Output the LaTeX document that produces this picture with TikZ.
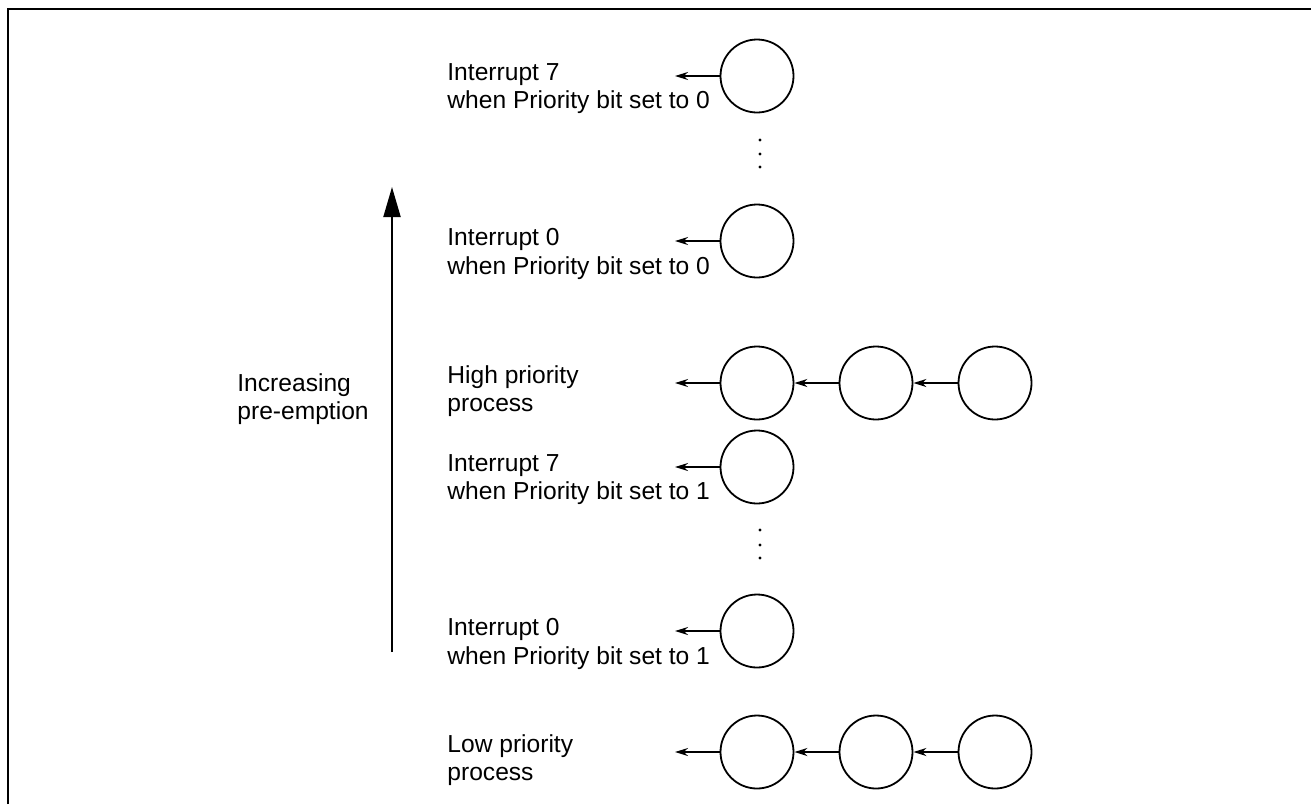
\documentclass[tikz,border=0pt]{standalone}
\usepackage{fontspec}
\setmainfont{Liberation Sans}
\usetikzlibrary{arrows.meta}
\tikzset{
  proc/.style={draw, circle, line width=0.9pt, minimum size=36.5pt, inner sep=0pt},
  lbl/.style={anchor=north west, inner sep=0pt, align=left, font=\fontsize{12.3}{14.3}\selectfont},
  link/.style={line width=0.9pt, -{Stealth[length=6.5pt,width=4pt]}},
}
\begin{document}
\begin{tikzpicture}[x=0.5pt, y=-0.5pt]
	\useasboundingbox (0,0) rectangle (1311,804);
	\draw[line width=1pt] (8,804)--(8,9)--(1311,9);
	% single interrupts
	\foreach \n/\y/\t in {i7a/76/{Interrupt 7\\when Priority bit set to 0},
		i0a/241/{Interrupt 0\\when Priority bit set to 0},
		i7b/467/{Interrupt 7\\when Priority bit set to 1},
		i0b/631/{Interrupt 0\\when Priority bit set to 1}}{
		\node[proc] (\n) at (757,\y) {};
		\coordinate (\n-out) at (675,\y);
		\draw[link] (\n)--(\n-out);
		\node[lbl] (\n-txt) at (447,\y-13) {\t};
	}
	% process queues
	\foreach \r/\y/\t in {hp/383/{High priority\\process}, lp/752/{Low priority\\process}}{
		\foreach \k/\x in {1/757, 2/876, 3/995}
			\node[proc] (\r\k) at (\x,\y) {};
		\coordinate (\r-out) at (675,\y);
		\draw[link] (\r3)--(\r2);
		\draw[link] (\r2)--(\r1);
		\draw[link] (\r1)--(\r-out);
		\node[lbl] (\r-txt) at (447,\y-18) {\t};
	}
	\foreach \y in {140,154,167,530,545,558}
		\fill (760,\y) circle (1.6);
	% pre-emption arrow
	\coordinate (pe-bot) at (392,652);
	\coordinate (pe-top) at (392,187);
	\draw[line width=1pt, -{Triangle[length=15pt,width=8.5pt]}] (pe-bot)--(pe-top);
	\node[lbl] (pe-txt) at (237,373) {Increasing\\pre-emption};
\end{tikzpicture}
\end{document}
